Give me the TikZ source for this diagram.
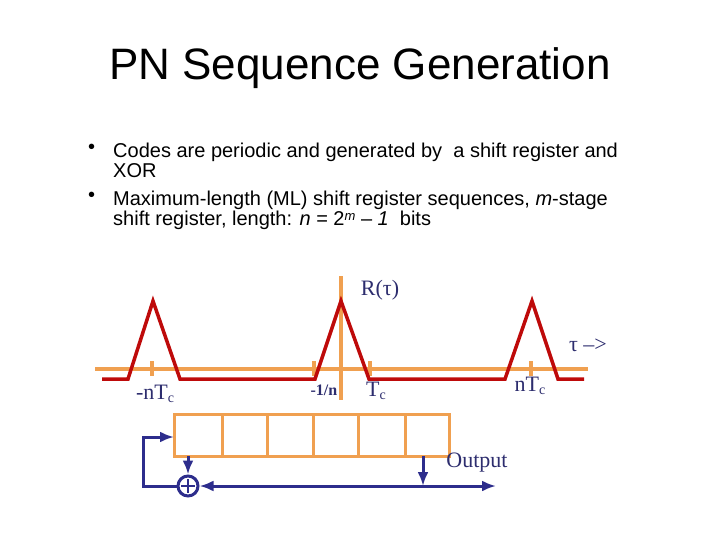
\documentclass[tikz,border=0pt]{standalone}
\usetikzlibrary{arrows.meta}
\usepackage{fontspec}
\setmainfont{Liberation Serif}
\newfontfamily\arialf{Liberation Sans}
\begin{document}
\begin{tikzpicture}[x=1pt,y=-1pt,
  orng/.style={draw={rgb,255:red,240;green,160;blue,80},line width=3.5pt},
  redl/.style={draw={rgb,255:red,190;green,10;blue,10},line width=3.5pt,line join=miter},
  bluel/.style={draw={rgb,255:red,45;green,45;blue,140},line width=3pt},
  arr/.style={-{Latex[length=14pt,width=11pt]}},
  lbl/.style={text={rgb,255:red,45;green,45;blue,110},font=\fontsize{22}{24}\selectfont,inner sep=0pt},
  bul/.style={font=\arialf\fontsize{20}{20}\selectfont,anchor=north west,inner sep=0pt,align=left}]
\useasboundingbox (0,0) rectangle (720,540);
\node[font=\arialf\fontsize{44}{48}\selectfont] (title) at (360,68) {PN Sequence Generation};
\node[bul] (b1) at (88,144) {•};
\node[bul] (t1) at (113,143) {Codes are periodic and generated by \ a shift register and\\XOR};
\node[bul] (b2) at (88,192) {•};
\node[bul] (t2) at (113,191) {Maximum-length (ML) shift register sequences, \textit{m}-stage\\shift register, length: \textit{n} = 2\raisebox{0.45ex}{\fontsize{13}{13}\selectfont\textit{m}} – \textit{1} \ bits};
% axes
\draw[orng] (95,369) -- (588,369);
\draw[orng] (341,276) -- (341,400);
\foreach \x in {152,314,370,531} \draw[orng] (\x,361) -- (\x,376);
% correlation
\draw[redl] (102,379) -- (128,379) -- (153,301) -- (180,379) -- (315,379) -- (341,301) -- (369,379) -- (505,379) -- (532,301) -- (558,379) -- (584,379);
\node[lbl] (R) at (380,290) {R(τ)};
\node[lbl] (tau) at (588,345) {τ –>};
\node[lbl] (nTm) at (155,394) {-nT\raisebox{-0.35ex}{\fontsize{14}{14}\selectfont c}};
\node[lbl,font=\fontsize{16}{18}\selectfont\bfseries] (inv) at (324,390) {-1/n};
\node[lbl] (Tc) at (376,391) {T\raisebox{-0.35ex}{\fontsize{14}{14}\selectfont c}};
\node[lbl] (nT) at (530,386) {nT\raisebox{-0.35ex}{\fontsize{14}{14}\selectfont c}};
% register
\draw[orng,line width=3pt] (174,414) rectangle (449,456);
\foreach \x in {222,267,313,358,405} \draw[orng,line width=3pt] (\x,414) -- (\x,456);
\node[draw={rgb,255:red,45;green,45;blue,140},line width=3pt,circle,minimum size=20pt,inner sep=0pt] (xor) at (188,486) {};
\draw[bluel,line width=1.5pt] (xor.center) ++(-7,0) -- ++(14,0) (xor.center) ++(0,-7) -- ++(0,14);
\coordinate (fb1) at (143,486);
\coordinate (fb2) at (143,437);
\coordinate (reg) at (174,437);
\draw[bluel,arr] (xor.west) -- (fb1) -- (fb2) -- (reg);
\coordinate (tap1) at (188,456);
\draw[bluel,arr] (tap1) -- (xor.north);
\coordinate (tap2) at (423,456);
\coordinate (junc) at (423,486);
\draw[bluel,arr] (tap2) -- (junc);
\coordinate (out) at (496,486);
\draw[bluel,arr] (junc) -- (out);
\draw[bluel,arr] (junc) -- (xor.east);
\node[lbl] (outl) at (477,463) {Output};
\end{tikzpicture}
\end{document}
